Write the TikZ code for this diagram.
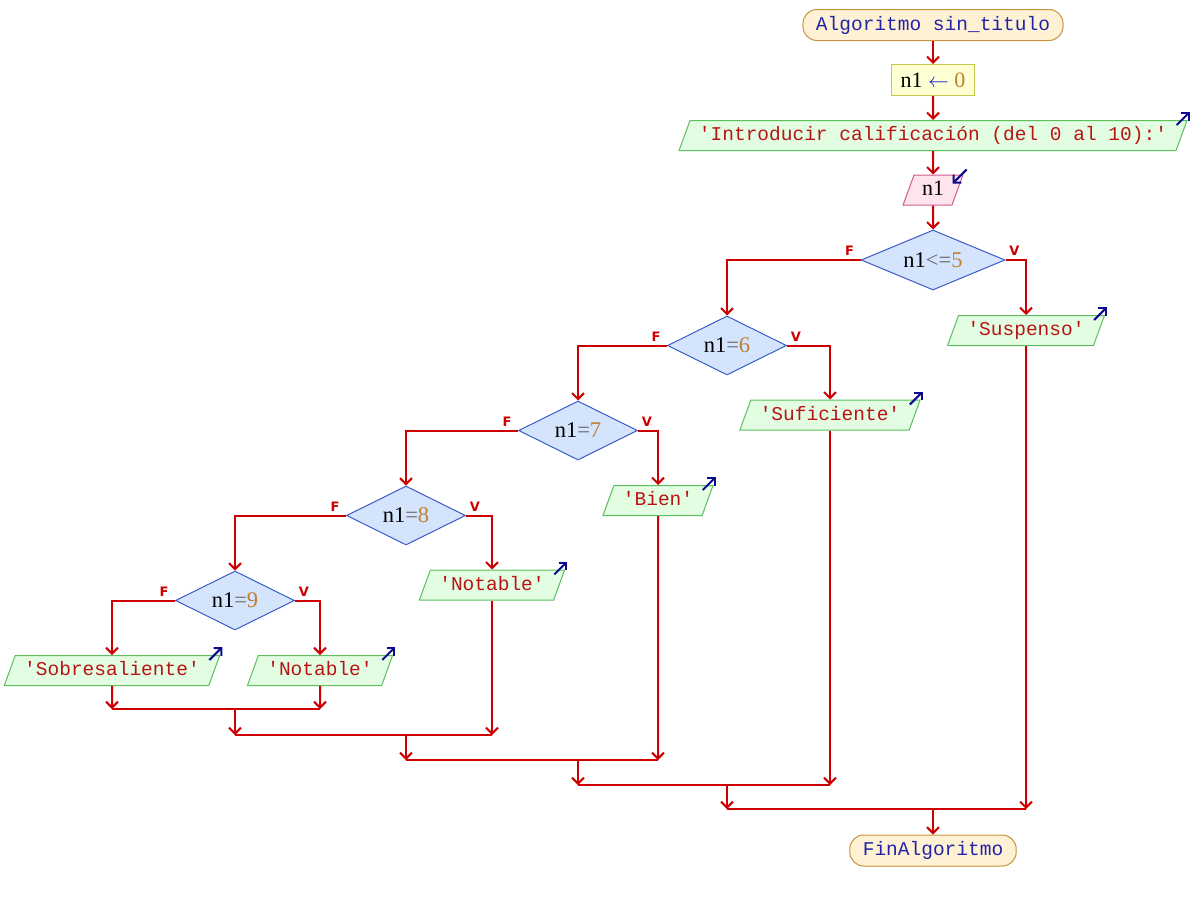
\documentclass[tikz,border=0pt]{standalone}
\usepackage{fontspec}
\setmainfont{Liberation Serif}
\setmonofont{Liberation Mono}
\newfontfamily\lblfont{DejaVu Sans}
\usetikzlibrary{shapes.geometric,arrows.meta}
\definecolor{flow}{HTML}{CC0000}
\definecolor{termfill}{HTML}{FFF2D4}
\definecolor{termdraw}{HTML}{C8923C}
\definecolor{termtext}{HTML}{2323A8}
\definecolor{asgfill}{HTML}{FFFFD4}
\definecolor{asgdraw}{HTML}{C8C850}
\definecolor{outfill}{HTML}{E2FDE2}
\definecolor{outdraw}{HTML}{5CBF5C}
\definecolor{outtext}{HTML}{B81414}
\definecolor{infill}{HTML}{FFE4EE}
\definecolor{indraw}{HTML}{D05C8C}
\definecolor{diafill}{HTML}{D4E4FC}
\definecolor{diadraw}{HTML}{3C5CC8}
\definecolor{optext}{HTML}{6A6A6A}
\definecolor{numtext}{HTML}{C08030}
\definecolor{icon}{HTML}{0A0A90}
\definecolor{arrowblue}{HTML}{1A1AD0}
\begin{document}
\begin{tikzpicture}[x=1pt,y=-1pt,
  flowline/.style={draw=flow,line width=2pt},
  arr/.style={flowline,-{Straight Barb[length=6pt,width=12pt]}},
  iconarr/.style={draw=icon,line width=2pt,-{Straight Barb[length=5.5pt,width=11pt]}},
  term/.style={draw=termdraw,fill=termfill,line width=1pt,rounded corners=14pt,
    minimum height=31pt,inner xsep=13pt,inner ysep=0pt,text=termtext,
    font=\fontsize{19.5}{22}\selectfont\ttfamily},
  asgbox/.style={draw=asgdraw,fill=asgfill,line width=1pt,minimum width=83pt,
    minimum height=31pt,inner sep=0pt,font=\fontsize{22}{24}\selectfont},
  para/.style={trapezium,trapezium left angle=70,trapezium right angle=110,
    line width=1pt,text height=14pt,text depth=4pt,inner ysep=6pt},
  outbox/.style={para,draw=outdraw,fill=outfill,inner xsep=9pt,
    text=outtext,font=\fontsize{19.5}{22}\selectfont\ttfamily},
  inbox/.style={para,draw=indraw,fill=infill,inner xsep=8pt,
    font=\fontsize{22}{24}\selectfont},
  dia/.style={diamond,aspect=2,draw=diadraw,fill=diafill,line width=1pt,
    minimum width=119pt,minimum height=59pt,inner sep=0pt,
    font=\fontsize{22.5}{24}\selectfont},
  fv/.style={text=flow,font=\lblfont\bfseries\fontsize{13}{15}\selectfont,inner sep=0pt}
]
\useasboundingbox (0,0) rectangle (1196,900);

\node[term] (start) at (933,25) {Algoritmo sin\_titulo};
\node[asgbox] (asg) at (933,80) {n1 \textcolor{arrowblue}{$\leftarrow$} \textcolor{numtext}{0}};
\node[outbox] (out1) at (933,135.5) {'Introducir calificación (del 0 al 10):'};
\node[inbox] (in1) at (933,190) {n1};
\node[dia,minimum width=144pt,minimum height=60pt] (d5) at (933,260) {n1\textcolor{optext}{<=}\textcolor{numtext}{5}};
\node[outbox] (susp) at (1026,330.5) {'Suspenso'};
\node[dia] (d6) at (727,345.5) {n1\textcolor{optext}{=}\textcolor{numtext}{6}};
\node[outbox] (suf) at (830,415) {'Suficiente'};
\node[dia] (d7) at (578,430.5) {n1\textcolor{optext}{=}\textcolor{numtext}{7}};
\node[outbox] (bien) at (658,500.5) {'Bien'};
\node[dia] (d8) at (406,515.5) {n1\textcolor{optext}{=}\textcolor{numtext}{8}};
\node[outbox] (not1) at (492,585) {'Notable'};
\node[dia] (d9) at (235,600.5) {n1\textcolor{optext}{=}\textcolor{numtext}{9}};
\node[outbox] (sob) at (112,670.5) {'Sobresaliente'};
\node[outbox] (not2) at (320,670.5) {'Notable'};
\node[term] (fin) at (933,850.5) {FinAlgoritmo};

% F / V labels
\foreach \d in {d5,d6,d7,d8,d9}{
  \node[fv] (F\d) at ([shift={(-11,-9)}]\d.west) {F};
  \node[fv] (V\d) at ([shift={(9,-9)}]\d.east) {V};
}

% icons
\foreach \n in {out1,susp,suf,bien,not1,sob,not2}{
  \draw[iconarr] ([shift={(-11,5)}]\n.top right corner) -- ++(13,-13);
}
\draw[iconarr] ([shift={(3,-5)}]in1.top right corner) -- ++(-14,14);

% main column
\draw[arr] (start) -- (asg);
\draw[arr] (asg) -- (out1);
\draw[arr] (out1) -- (in1);
\draw[arr] (in1) -- (d5);

% branches
\draw[arr] (d5.west) -| (d6);
\draw[arr] (d5.east) -| (susp);
\draw[arr] (d6.west) -| (d7);
\draw[arr] (d6.east) -| (suf);
\draw[arr] (d7.west) -| (d8);
\draw[arr] (d7.east) -| (bien);
\draw[arr] (d8.west) -| (d9);
\draw[arr] (d8.east) -| (not1);
\draw[arr] (d9.west) -| (sob);
\draw[arr] (d9.east) -| (not2);

% joins
\coordinate (j9) at (235,709);
\coordinate (j8) at (406,735);
\coordinate (j7) at (578,760);
\coordinate (j6) at (727,785);
\coordinate (j5) at (933,809);

\draw[arr] (sob) -- (sob |- j9);
\draw[arr] (not2) -- (not2 |- j9);
\draw[flowline] (sob |- j9) -- (not2 |- j9);

\draw[arr] (j9) -- (j9 |- j8);
\draw[arr] (not1) -- (not1 |- j8);
\draw[flowline] (j9 |- j8) -- (not1 |- j8);

\draw[arr] (j8) -- (j8 |- j7);
\draw[arr] (bien) -- (bien |- j7);
\draw[flowline] (j8 |- j7) -- (bien |- j7);

\draw[arr] (j7) -- (j7 |- j6);
\draw[arr] (suf) -- (suf |- j6);
\draw[flowline] (j7 |- j6) -- (suf |- j6);

\draw[arr] (j6) -- (j6 |- j5);
\draw[arr] (susp) -- (susp |- j5);
\draw[flowline] (j6 |- j5) -- (susp |- j5);

\draw[arr] (j5) -- (fin);
\end{tikzpicture}
\end{document}
